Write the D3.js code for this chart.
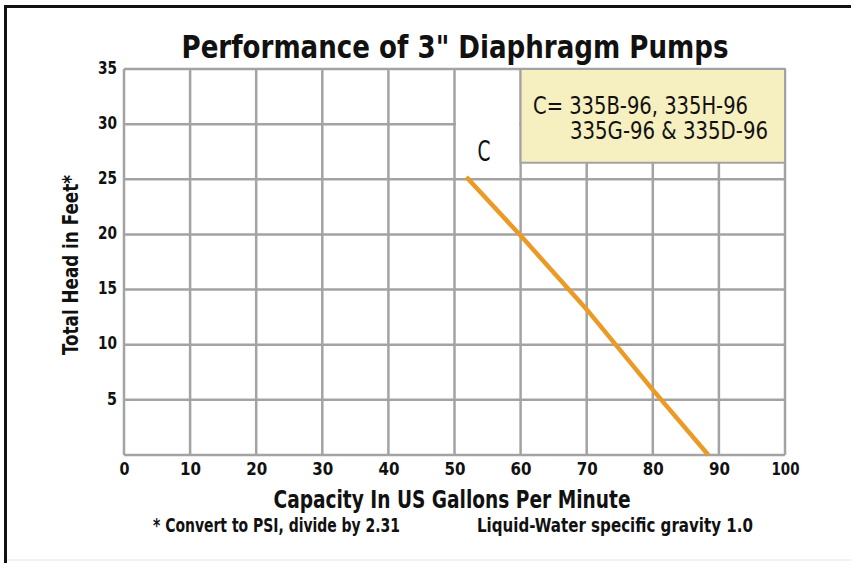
<!DOCTYPE html>
<html>
<head>
<meta charset="utf-8">
<script src="https://cdn.jsdelivr.net/npm/d3@7"></script>
<style>
  html, body { margin: 0; padding: 0; background: #fff; }
  svg { display: block; }
</style>
</head>
<body>
<div id="chart"></div>
<script>
// tick values
let xTicks = [0, 10, 20, 30, 40, 50, 60, 70, 80, 90, 100];
let yTicks = [5, 10, 15, 20, 25, 30, 35];

// pump curve C (gpm vs feet of head)
let capacity = [51.8, 60, 70, 80, 88.4];
let head     = [25.2, 19.9, 13.2, 5.9, 0];

let curveName = "C";
let legendLines = ["C= 335B-96, 335H-96", "335G-96 & 335D-96"];

let larg = 851;
let alt = 563;
let narrow = "'Liberation Sans Narrow', 'DejaVu Sans Condensed', 'Arial Narrow', sans-serif";
let grade = "#a3a3a3";

let canvas = d3.select("#chart")
                .append("svg")
                .attr("width", larg)
                .attr("height", alt);

// outer frame (top + left black edges)
canvas.append("rect").attr("x", 4).attr("y", 5).attr("width", larg - 4).attr("height", 3).attr("fill", "#111");
canvas.append("rect").attr("x", 4).attr("y", 5).attr("width", 3).attr("height", alt - 5).attr("fill", "#111");
canvas.append("line").attr("x1", 7).attr("x2", larg).attr("y1", 560).attr("y2", 560)
      .attr("stroke", "#e4e4e4").attr("stroke-width", 1);

var x = d3.scaleLinear()
            .domain([0, 100])
            .range([124, 785]);

var y = d3.scaleLinear()
            .domain([0, 35])
            .range([455, 69]);

// grid
let grid = canvas.append("g");
grid.selectAll(".vx")
    .data(xTicks)
    .enter()
        .append("line")
        .attr("x1", d => x(d))
        .attr("x2", d => x(d))
        .attr("y1", y(35))
        .attr("y2", y(0))
        .attr("stroke", grade)
        .attr("stroke-width", 2.5);
grid.selectAll(".hy")
    .data([0].concat(yTicks))
    .enter()
        .append("line")
        .attr("x1", x(0))
        .attr("x2", x(100))
        .attr("y1", d => y(d))
        .attr("y2", d => y(d))
        .attr("stroke", grade)
        .attr("stroke-width", 2.5);

// white patch behind the curve label
canvas.append("rect")
        .attr("x", x(50) + 1.5)
        .attr("y", y(30) - 2)
        .attr("width", x(60) - x(50) - 3)
        .attr("height", y(25.4) - y(30) + 2)
        .attr("fill", "#fff");

// legend box
canvas.append("rect")
        .attr("x", x(60))
        .attr("y", y(35))
        .attr("width", x(100) - x(60))
        .attr("height", y(26.5) - y(35))
        .attr("fill", "#f6efbf")
        .attr("stroke", grade)
        .attr("stroke-width", 2);

canvas.append("text")
        .attr("x", 533)
        .attr("y", 114)
        .attr("textLength", 215)
        .attr("lengthAdjust", "spacingAndGlyphs")
        .style("font", "500 24px " + narrow)
        .attr("fill", "#111")
        .text(legendLines[0]);
canvas.append("text")
        .attr("x", 570)
        .attr("y", 139)
        .attr("textLength", 198)
        .attr("lengthAdjust", "spacingAndGlyphs")
        .style("font", "500 24px " + narrow)
        .attr("fill", "#111")
        .text(legendLines[1]);

// axes labels
var eixoY = d3.axisLeft(y).tickValues(yTicks).tickSize(0).tickPadding(7);
canvas.append("g")
        .attr("transform", "translate(" + x(0) + ",0)")
        .style("font", "bold 17px " + narrow)
        .call(eixoY)
        .call(g => g.select(".domain").remove())
        .call(g => g.selectAll("text").attr("fill", "#111").attr("dy", "0.25em")
                     .attr("textLength", d => d < 10 ? 10 : 19)
                     .attr("lengthAdjust", "spacingAndGlyphs"));

var eixoX = d3.axisBottom(x).tickValues(xTicks).tickSize(0).tickPadding(8);
canvas.append("g")
        .attr("transform", "translate(0," + y(0) + ")")
        .style("font", "bold 17px " + narrow)
        .call(eixoX)
        .call(g => g.select(".domain").remove())
        .call(g => g.selectAll("text").attr("fill", "#111")
                     .attr("textLength", d => d < 10 ? 10 : (d < 100 ? 21 : 28))
                     .attr("lengthAdjust", "spacingAndGlyphs"));

// curve
let pontos = capacity.map((c, i) => [c, head[i]]);
var linha = d3.line()
            .x(d => x(d[0]))
            .y(d => y(d[1]));

canvas.append("path")
        .datum(pontos)
        .attr("d", linha)
        .attr("fill", "none")
        .attr("stroke", "#ec9a26")
        .attr("stroke-width", 4.5)
        .attr("stroke-linecap", "butt");

canvas.append("text")
        .attr("x", 484)
        .attr("y", 161)
        .attr("text-anchor", "middle")
        .attr("textLength", 13)
        .attr("lengthAdjust", "spacingAndGlyphs")
        .style("font", "500 29px " + narrow)
        .attr("fill", "#111")
        .text(curveName);

// titles
canvas.append("text")
        .attr("x", 455)
        .attr("y", 58)
        .attr("text-anchor", "middle")
        .attr("textLength", 547)
        .attr("lengthAdjust", "spacingAndGlyphs")
        .style("font", "bold 32px " + narrow)
        .attr("fill", "#111")
        .text("Performance of 3\" Diaphragm Pumps");

canvas.append("text")
        .attr("x", 452)
        .attr("y", 508)
        .attr("text-anchor", "middle")
        .attr("textLength", 357)
        .attr("lengthAdjust", "spacingAndGlyphs")
        .style("font", "bold 24px " + narrow)
        .attr("fill", "#111")
        .text("Capacity In US Gallons Per Minute");

canvas.append("text")
        .attr("x", 153)
        .attr("y", 532)
        .attr("textLength", 247)
        .attr("lengthAdjust", "spacingAndGlyphs")
        .style("font", "bold 19px " + narrow)
        .attr("fill", "#111")
        .text("* Convert to PSI, divide by 2.31");

canvas.append("text")
        .attr("x", 477)
        .attr("y", 532)
        .attr("textLength", 276)
        .attr("lengthAdjust", "spacingAndGlyphs")
        .style("font", "bold 19px " + narrow)
        .attr("fill", "#111")
        .text("Liquid-Water specific gravity 1.0");

canvas.append("text")
        .attr("transform", "translate(78,265) rotate(-90)")
        .attr("text-anchor", "middle")
        .attr("textLength", 180)
        .attr("lengthAdjust", "spacingAndGlyphs")
        .style("font", "bold 21px " + narrow)
        .attr("fill", "#111")
        .text("Total Head in Feet*");
</script>
</body>
</html>
